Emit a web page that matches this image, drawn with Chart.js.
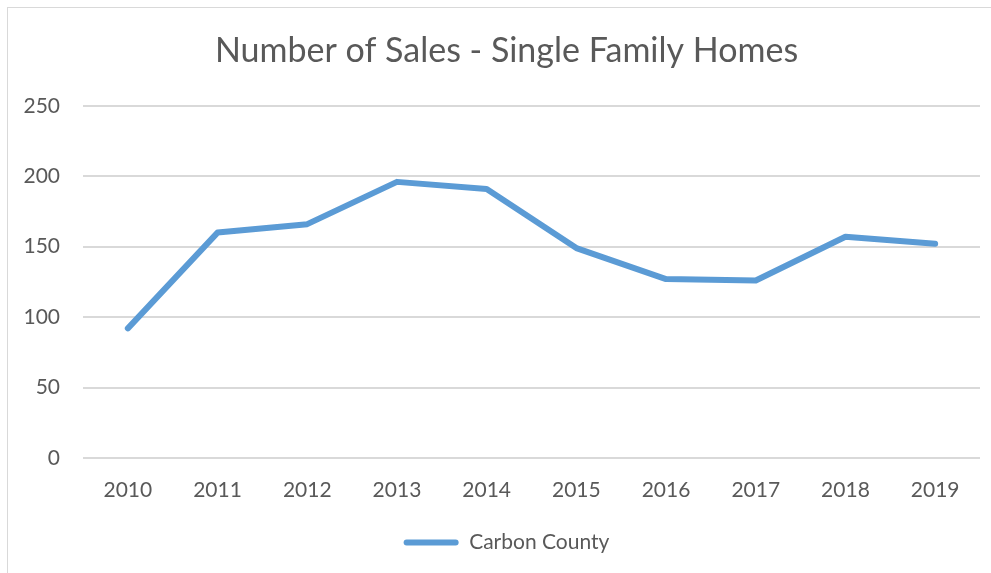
<!DOCTYPE html>
<html>
<head>
<meta charset="utf-8">
<script src="https://cdn.jsdelivr.net/npm/chart.js@4/dist/chart.umd.min.js"></script>
<style>
  html, body { margin: 0; padding: 0; background: #fff; overflow: hidden; }
  #wrap { position: relative; width: 991px; height: 573px; }
  #frame { position: absolute; left: 7px; top: 7px; width: 1000px; height: 600px; border: 1px solid #d9d9d9; box-sizing: border-box; }
  #c { position: absolute; left: 0; top: 0; }
</style>
</head>
<body>
<div id="wrap">
  <div id="frame"></div>
  <canvas id="c" width="991" height="573"></canvas>
</div>
<script>
const title = "Number of Sales - Single Family Homes";
const seriesName = "Carbon County";
const years = ["2010", "2011", "2012", "2013", "2014", "2015", "2016", "2017", "2018", "2019"];
const sales = [92, 160, 166, 196, 191, 149, 127, 126, 157, 152];
const yTicks = [0, 50, 100, 150, 200, 250];

const textColor = "#595959";
const gridColor = "#d9d9d9";
const lineColor = "#5B9BD5";
const fontFamily = "Lato, 'Open Sans', sans-serif";

new Chart(document.getElementById("c"), {
  type: "line",
  data: {
    labels: years,
    datasets: [{
      label: seriesName,
      data: sales,
      borderColor: lineColor,
      backgroundColor: lineColor,
      borderWidth: 6,
      borderCapStyle: "round",
      borderJoinStyle: "round",
      pointRadius: 0,
      pointHoverRadius: 0,
      tension: 0,
      fill: false
    }]
  },
  options: {
    responsive: false,
    animation: false,
    devicePixelRatio: 1,
    layout: { padding: { left: 0, right: -22, top: 0, bottom: 10 } },
    plugins: {
      title: {
        display: true,
        text: title,
        color: textColor,
        font: { family: fontFamily, size: 34, weight: "normal" },
        padding: { top: 31, bottom: 34 }
      },
      legend: {
        display: true,
        position: "bottom",
        labels: {
          color: textColor,
          font: { family: fontFamily, size: 21 },
          boxWidth: 55,
          boxHeight: 6,
          useBorderRadius: true,
          borderRadius: 3,
          padding: 10,
          generateLabels: (chart) => Chart.defaults.plugins.legend.labels.generateLabels(chart).map(l => Object.assign(l, { lineWidth: 0, fillStyle: lineColor }))
        }
      },
      tooltip: { enabled: false }
    },
    scales: {
      x: {
        offset: true,
        grid: { display: false, drawTicks: false, offset: true },
        border: { display: false },
        ticks: { color: textColor, font: { family: fontFamily, size: 21 }, padding: 20, maxRotation: 0 },
        afterFit: (s) => { s.height = 64; }
      },
      y: {
        min: yTicks[0],
        max: yTicks[yTicks.length - 1],
        afterBuildTicks: (s) => { s.ticks = yTicks.map(v => ({ value: v })); },
        grid: { color: gridColor, lineWidth: 2, drawTicks: false },
        border: { display: false },
        ticks: { color: textColor, font: { family: fontFamily, size: 21 }, padding: 23 },
        afterFit: (s) => { s.width = 83; }
      },
      yPad: {
        position: "right",
        display: true,
        grid: { display: false, drawTicks: false },
        border: { display: false },
        ticks: { display: false },
        afterFit: (s) => { s.width = 33; }
      }
    }
  }
});
</script>
</body>
</html>
